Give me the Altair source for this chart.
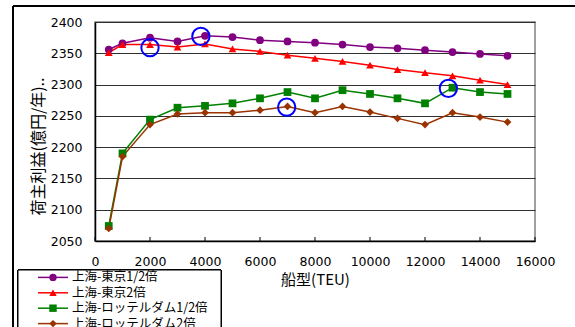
import altair as alt
import pandas as pd

# Ship size (TEU) and shipper benefit (100 million yen / year) for each route scenario
teu = [500, 1000, 2000, 3000, 4000, 5000, 6000, 7000, 8000,
       9000, 10000, 11000, 12000, 13000, 14000, 15000]
series_names = ["上海-東京1/2倍", "上海-東京2倍",
                "上海-ロッテルダム1/2倍", "上海-ロッテルダム2倍"]
tokyo_half = [2356, 2366, 2375, 2369, 2378, 2376, 2371, 2369,
              2367, 2364, 2360, 2358, 2355, 2352, 2349, 2346]
tokyo_double = [2351, 2364, 2364, 2360, 2365, 2357, 2353, 2347,
                2342, 2337, 2331, 2324, 2319, 2314, 2307, 2300]
rdam_half = [2074, 2190, 2244, 2263, 2266, 2270, 2278, 2288,
             2278, 2291, 2285, 2278, 2270, 2295, 2288, 2285]
rdam_double = [2070, 2185, 2236, 2253, 2255, 2255, 2259, 2265,
               2255, 2265, 2256, 2246, 2236, 2255, 2248, 2240]

# Optimum ship sizes highlighted with open circles
optimum_teu = [2000, 3850, 6970, 12850]
optimum_benefit = [2359, 2377, 2264, 2294]

x_ticks = [0, 2000, 4000, 6000, 8000, 10000, 12000, 14000, 16000]
y_ticks = [2050, 2100, 2150, 2200, 2250, 2300, 2350, 2400]

colors = ["#800080", "#FF0000", "#008000", "#993300"]
shapes = ["circle", "triangle-up", "square", "diamond"]

rows = []
for name, vals in zip(series_names, [tokyo_half, tokyo_double, rdam_half, rdam_double]):
    for t, v in zip(teu, vals):
        rows.append({"series": name, "teu": t, "benefit": v})
df = pd.DataFrame(rows)
opt_df = pd.DataFrame({"teu": optimum_teu, "benefit": optimum_benefit})
tick_df = pd.DataFrame({"teu": x_ticks})
legend_df = pd.DataFrame({"series": series_names})

W, H = 440, 219
FONT = "Noto Sans CJK JP"
NUM_FONT = "DejaVu Sans"

x_scale = alt.Scale(domain=[0, 16000], nice=False, zero=False)
y_scale = alt.Scale(domain=[2050, 2400], nice=False, zero=False)
color_scale = alt.Scale(domain=series_names, range=colors)
shape_scale = alt.Scale(domain=series_names, range=shapes)

base = alt.Chart(df)

lines = base.mark_line(strokeWidth=1.5).encode(
    x=alt.X("teu:Q", scale=x_scale,
            axis=alt.Axis(values=x_ticks, tickCount=len(x_ticks), format="d",
                          labelOverlap=False, labelFlush=False,
                          title="船型(TEU)", grid=False, ticks=False,
                          labelPadding=14, labelFont=NUM_FONT, labelFontSize=12.5,
                          labelColor="#000000", domainColor="#000000", domainWidth=1.5,
                          titleFont=FONT, titleFontSize=15, titleFontWeight="normal",
                          titleColor="#000000", titlePadding=5)),
    y=alt.Y("benefit:Q", scale=y_scale,
            axis=alt.Axis(values=y_ticks, tickCount=len(y_ticks), format="d",
                          labelOverlap=False, labelFlush=False,
                          title="荷主利益(億円/年)..", grid=True,
                          gridColor="#303030", gridWidth=1, ticks=False,
                          labelPadding=13, labelFont=NUM_FONT, labelFontSize=12.5,
                          labelColor="#000000", domainColor="#000000", domainWidth=1.5,
                          titleFont=FONT, titleFontSize=16, titleFontWeight="normal",
                          titleColor="#000000", titleAngle=270, titleAlign="center",
                          titleBaseline="middle", titleX=-57, titleY=124)),
    color=alt.Color("series:N", scale=color_scale, legend=None),
    detail="series:N",
)

points = base.mark_point(filled=True, size=60, opacity=1).encode(
    x=alt.X("teu:Q", scale=x_scale),
    y=alt.Y("benefit:Q", scale=y_scale),
    color=alt.Color("series:N", scale=color_scale, legend=None),
    shape=alt.Shape("series:N", scale=shape_scale, legend=None),
)

circles = alt.Chart(opt_df).mark_point(
    shape="circle", filled=False, size=300, color="#0000FF", strokeWidth=2, opacity=1
).encode(
    x=alt.X("teu:Q", scale=x_scale),
    y=alt.Y("benefit:Q", scale=y_scale),
)

# Inward tick marks on the x axis
ticks = alt.Chart(tick_df).mark_rule(color="#000000", strokeWidth=1).encode(
    x=alt.X("teu:Q", scale=x_scale),
    y=alt.value(H - 4),
    y2=alt.value(H),
)

# Outer chart frame (left and top edges)
frame_left = alt.Chart(tick_df).mark_rule(color="#000000", strokeWidth=1.5).encode(
    x=alt.value(-82), y=alt.value(-16), y2=alt.value(H + 90)
)
frame_top = alt.Chart(tick_df).mark_rule(color="#000000", strokeWidth=1.5).encode(
    x=alt.value(-82), x2=alt.value(W + 60), y=alt.value(-16)
)

# Legend box below the plot, with one row per series
legend_box = alt.Chart(tick_df).mark_rect(
    fill="#FFFFFF", stroke="#000000", strokeWidth=1
).encode(
    x=alt.value(-77), x2=alt.value(126), y=alt.value(248), y2=alt.value(H + 100)
)
legend_base = alt.Chart(legend_df).transform_window(
    idx="row_number()"
).transform_calculate(
    ly="240 + datum.idx * 15.4"
)
legend_y = alt.Y("ly:Q", scale=None, axis=None)
legend_lines = legend_base.mark_rule(strokeWidth=1.5).encode(
    x=alt.value(-57), x2=alt.value(-27),
    y=legend_y,
    color=alt.Color("series:N", scale=color_scale, legend=None),
)
legend_marks = legend_base.mark_point(filled=True, size=55, opacity=1).encode(
    x=alt.value(-42),
    y=legend_y,
    color=alt.Color("series:N", scale=color_scale, legend=None),
    shape=alt.Shape("series:N", scale=shape_scale, legend=None),
)
legend_text = legend_base.mark_text(
    align="left", baseline="middle", font=FONT, fontSize=12.5, color="#000000"
).encode(
    x=alt.value(-23),
    y=legend_y,
    text="series:N",
)

chart = alt.layer(
    frame_left, frame_top, lines, ticks, points, circles,
    legend_box, legend_lines, legend_marks, legend_text
).properties(
    width=W,
    height=H,
    autosize=alt.AutoSizeParams(type="none"),
    padding={"left": 95, "top": 22, "right": 40, "bottom": 86},
    background="#FFFFFF",
).configure_view(
    stroke="#808080", strokeWidth=1.5
)

chart.save("out.html", embed_options={"renderer": "svg", "actions": False})
